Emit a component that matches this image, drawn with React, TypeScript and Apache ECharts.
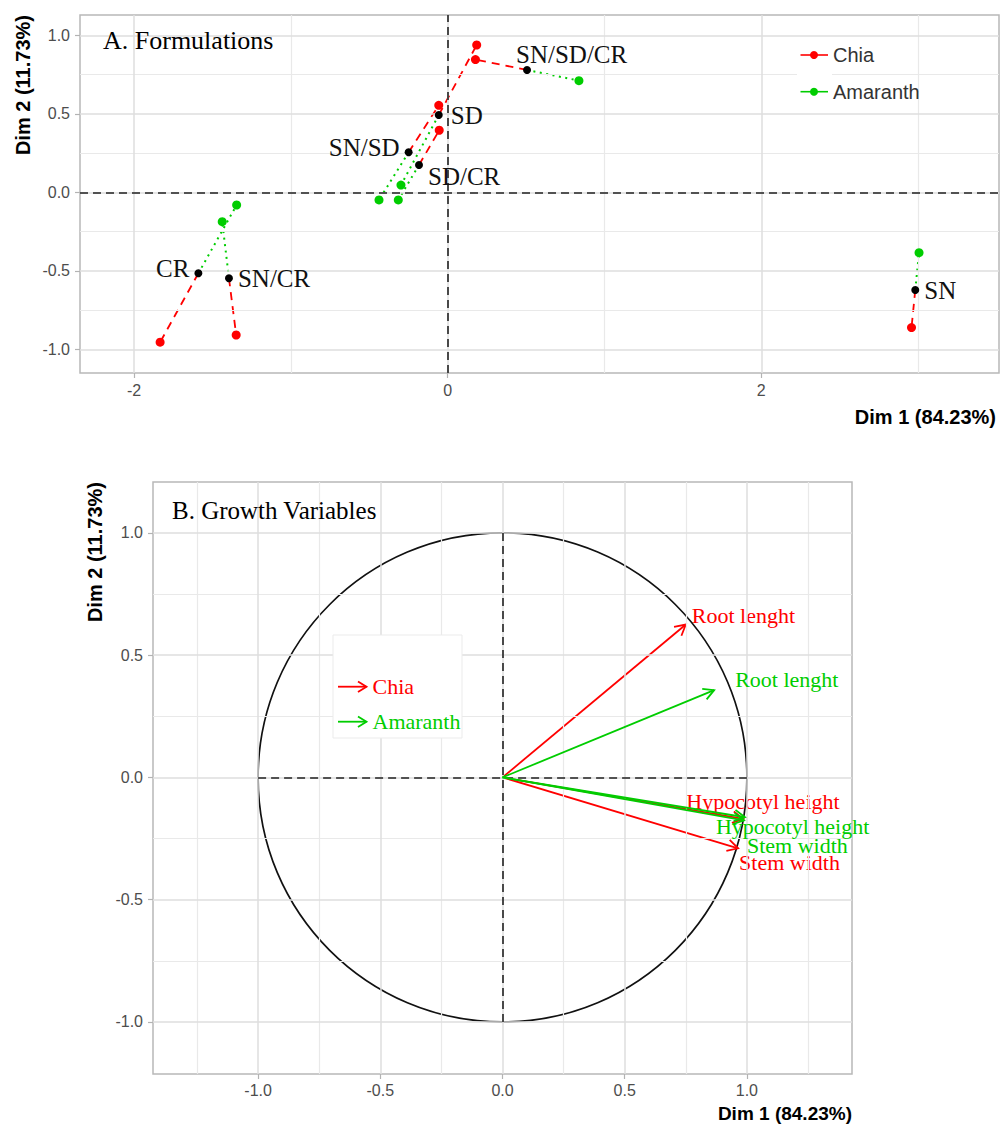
import React, { useEffect, useRef } from "react";
import * as echarts from "echarts";

// ---------- Panel A data (MFA partial individuals) ----------
const formulations = ["CR", "SN/CR", "SN/SD", "SD/CR", "SD", "SN/SD/CR", "SN"];
const meanX = [-1.59, -1.395, -0.249, -0.183, -0.057, 0.506, 2.982];
const meanY = [-0.516, -0.548, 0.255, 0.174, 0.492, 0.779, -0.622];
const chiaX = [-1.834, -1.349, -0.057, -0.054, 0.185, 0.177, 2.958];
const chiaY = [-0.955, -0.909, 0.554, 0.395, 0.938, 0.845, -0.862];
const amaranthX = [-1.346, -1.438, -0.438, -0.315, -0.298, 0.837, 3.006];
const amaranthY = [-0.081, -0.187, -0.049, -0.049, 0.046, 0.711, -0.385];

const xTicksA = [-2, 0, 2];
const xMinorA = [-1, 1, 3];
const yTicksA = [-1, -0.5, 0, 0.5, 1];
const yMinorA = [-0.75, -0.25, 0.25, 0.75];

// ---------- Panel B data (variable loadings) ----------
const variables = ["Root lenght", "Hypocotyl height", "Stem width"];
const chiaLoadX = [0.75, 0.985, 0.964];
const chiaLoadY = [0.625, -0.17, -0.29];
const amaranthLoadX = [0.866, 0.992, 0.988];
const amaranthLoadY = [0.357, -0.163, -0.176];
const circleRadius = [1];

const ticksB = [-1, -0.5, 0, 0.5, 1];
const minorXB = [-1.25, -0.75, -0.25, 0.25, 0.75, 1.25];
const minorYB = [-0.75, -0.25, 0.25, 0.75];

// ---------- styles ----------
const RED = "#FF0000";
const GREEN = "#00CD00";
const SERIF = "'Liberation Serif', 'Times New Roman', serif";
const SANS = "'Liberation Sans', Arial, sans-serif";
const MAJOR = { color: "#DEDEDE", width: 1.5, type: "solid" };
const MINOR = { color: "#E9E9E9", width: 1.2, type: "solid" };
const ZERO = { color: "#222222", width: 1.6, type: [8, 5] };

// label placement (style) for formulation means
const meanLabelPos = [
  { position: "left", offset: [0, -5] },
  { position: "right", offset: [0, 0] },
  { position: "left", offset: [0, -5] },
  { position: "right", offset: [0, 12] },
  { position: "right", offset: [3, 0] },
  { position: "right", offset: [-20, -15] },
  { position: "right", offset: [0, 1] },
];
const chiaLabelOffset = [[6, -9], [-57, -17], [1, 14]];
const amaranthLabelOffset = [[21, -11], [-29, 9], [3, 25]];

function headPoints(x1: number, y1: number, x2: number, y2: number, len = 12, ang = 0.5) {
  const a = Math.atan2(y2 - y1, x2 - x1);
  return [
    [x2 - len * Math.cos(a - ang), y2 - len * Math.sin(a - ang)],
    [x2, y2],
    [x2 - len * Math.cos(a + ang), y2 - len * Math.sin(a + ang)],
  ];
}

function gridSeries(idx: number, majorX: number[], minorX: number[], majorY: number[], minorY: number[]) {
  return {
    type: "line",
    xAxisIndex: idx,
    yAxisIndex: idx,
    data: [],
    z: 1,
    silent: true,
    markLine: {
      silent: true,
      symbol: ["none", "none"],
      label: { show: false },
      emphasis: { disabled: true },
      data: [
        ...minorX.map((v) => ({ xAxis: v, lineStyle: MINOR })),
        ...minorY.map((v) => ({ yAxis: v, lineStyle: MINOR })),
        ...majorX.map((v) => ({ xAxis: v, lineStyle: MAJOR })),
        ...majorY.map((v) => ({ yAxis: v, lineStyle: MAJOR })),
      ],
    },
  };
}

function segmentSeries(xs2: number[], ys2: number[], color: string, dash: number[], width: number, z: number) {
  return {
    type: "custom",
    xAxisIndex: 0,
    yAxisIndex: 0,
    z,
    silent: true,
    data: formulations.map((_, i) => [meanX[i], meanY[i], xs2[i], ys2[i]]),
    encode: { x: [0, 2], y: [1, 3] },
    renderItem: (params: any, api: any) => {
      const a = api.coord([api.value(0), api.value(1)]);
      const b = api.coord([api.value(2), api.value(3)]);
      return {
        type: "line",
        shape: { x1: a[0], y1: a[1], x2: b[0], y2: b[1] },
        style: { stroke: color, lineWidth: width, lineDash: dash, fill: "none" },
      };
    },
  };
}

function arrowSeries(xs: number[], ys: number[], color: string, offsets: number[][], z: number) {
  return {
    type: "custom",
    xAxisIndex: 1,
    yAxisIndex: 1,
    z,
    silent: true,
    data: xs.map((x, i) => [x, ys[i]]),
    encode: { x: 0, y: 1 },
    renderItem: (params: any, api: any) => {
      const o = api.coord([0, 0]);
      const p = api.coord([api.value(0), api.value(1)]);
      const i = params.dataIndex;
      return {
        type: "group",
        children: [
          { type: "line", shape: { x1: o[0], y1: o[1], x2: p[0], y2: p[1] }, style: { stroke: color, lineWidth: 1.8 } },
          { type: "polyline", shape: { points: headPoints(o[0], o[1], p[0], p[1]) }, style: { stroke: color, lineWidth: 1.8, fill: "none" } },
          {
            type: "text",
            x: p[0] + offsets[i][0],
            y: p[1] + offsets[i][1],
            style: { text: variables[i], fill: color, fontFamily: SERIF, fontSize: 22, align: "left", verticalAlign: "middle" },
          },
        ],
      };
    },
  };
}

function makeAxis(idx: number, min: number, max: number, ticks: number[], fmt: (v: number) => string, margin: number) {
  return {
    type: "value",
    gridIndex: idx,
    min,
    max,
    axisLine: { show: false, onZero: false },
    splitLine: { show: false },
    axisTick: { show: true, customValues: ticks, length: 5, lineStyle: { color: "#B3B3B3", width: 1.2 } },
    axisLabel: { customValues: ticks, margin, color: "#4D4D4D", fontSize: 16, fontFamily: SANS, formatter: fmt },
  };
}

function legendA(y: number, color: string, label: string) {
  return [
    { type: "line", z: 51, shape: { x1: 800.5, y1: y, x2: 828, y2: y }, style: { stroke: color, lineWidth: 1.6 } },
    { type: "circle", z: 52, shape: { cx: 814, cy: y, r: 4 }, style: { fill: color } },
    { type: "text", z: 52, x: 833, y, style: { text: label, fill: "#333333", fontFamily: SANS, fontSize: 20, align: "left", verticalAlign: "middle" } },
  ];
}

function legendB(y: number, color: string, label: string) {
  return [
    { type: "line", z: 51, shape: { x1: 338, y1: y, x2: 366.5, y2: y }, style: { stroke: color, lineWidth: 1.8 } },
    { type: "polyline", z: 51, shape: { points: headPoints(338, y, 366.5, y, 10, 0.55) }, style: { stroke: color, lineWidth: 1.8, fill: "none" } },
    { type: "text", z: 52, x: 372.5, y, style: { text: label, fill: color, fontFamily: SERIF, fontSize: 22, align: "left", verticalAlign: "middle" } },
  ];
}

export default function App() {
  const ref = useRef<HTMLDivElement>(null);
  useEffect(() => {
    if (!ref.current) return;
    const chart = echarts.init(ref.current, null, { renderer: "svg" });
    const f1 = (v: number) => Number(v).toFixed(1);
    const f0 = (v: number) => String(Math.round(v));
    const option: any = {
      animation: false,
      backgroundColor: "#FFFFFF",
      textStyle: { fontFamily: SANS },
      grid: [
        { left: 80, top: 15, width: 919, height: 358, show: true, borderColor: "#B8B8B8", borderWidth: 1.5, backgroundColor: "#FFFFFF" },
        { left: 153, top: 482, width: 699, height: 592, show: true, borderColor: "#B8B8B8", borderWidth: 1.5, backgroundColor: "#FFFFFF" },
      ],
      xAxis: [
        makeAxis(0, -2.345, 3.516, xTicksA, f0, 9),
        makeAxis(1, -1.43, 1.43, ticksB, f1, 8),
      ],
      yAxis: [
        makeAxis(0, -1.151, 1.129, yTicksA, f1, 10),
        makeAxis(1, -1.213, 1.208, ticksB, f1, 10),
      ],
      series: [
        gridSeries(0, xTicksA, xMinorA, yTicksA, yMinorA),
        gridSeries(1, ticksB, minorXB, ticksB, minorYB),
        {
          type: "line",
          xAxisIndex: 0,
          yAxisIndex: 0,
          data: [],
          z: 2,
          silent: true,
          markLine: {
            silent: true,
            symbol: ["none", "none"],
            label: { show: false },
            emphasis: { disabled: true },
            data: [{ xAxis: 0, lineStyle: ZERO }, { yAxis: 0, lineStyle: ZERO }],
          },
        },
        {
          type: "line",
          xAxisIndex: 1,
          yAxisIndex: 1,
          data: [],
          z: 2,
          silent: true,
          markLine: {
            silent: true,
            symbol: ["none", "none"],
            label: { show: false },
            emphasis: { disabled: true },
            data: [
              [{ coord: [-circleRadius[0], 0], lineStyle: ZERO }, { coord: [circleRadius[0], 0] }],
              [{ coord: [0, -circleRadius[0]], lineStyle: ZERO }, { coord: [0, circleRadius[0]] }],
            ],
          },
        },
        {
          type: "custom",
          xAxisIndex: 1,
          yAxisIndex: 1,
          z: 3,
          silent: true,
          data: circleRadius.map((r) => [0, 0, r]),
          encode: { x: 0, y: 1 },
          renderItem: (params: any, api: any) => {
            const c = api.coord([api.value(0), api.value(1)]);
            const r = api.value(2);
            const s = api.size([r, r]);
            return { type: "ellipse", shape: { cx: c[0], cy: c[1], rx: s[0], ry: s[1] }, style: { stroke: "#111111", lineWidth: 1.7, fill: "none" } };
          },
        },
        segmentSeries(chiaX, chiaY, RED, [8, 6], 1.8, 4),
        segmentSeries(amaranthX, amaranthY, GREEN, [2, 4.5], 2, 4),
        {
          type: "scatter",
          name: "Chia",
          xAxisIndex: 0,
          yAxisIndex: 0,
          z: 5,
          silent: true,
          symbolSize: 9,
          itemStyle: { color: RED, opacity: 1 },
          data: chiaX.map((x, i) => [x, chiaY[i]]),
        },
        {
          type: "scatter",
          name: "Amaranth",
          xAxisIndex: 0,
          yAxisIndex: 0,
          z: 5,
          silent: true,
          symbolSize: 9,
          itemStyle: { color: GREEN, opacity: 1 },
          data: amaranthX.map((x, i) => [x, amaranthY[i]]),
        },
        {
          type: "scatter",
          name: "Mean",
          xAxisIndex: 0,
          yAxisIndex: 0,
          z: 6,
          silent: true,
          symbolSize: 8,
          itemStyle: { color: "#000000", opacity: 1 },
          label: { show: true, formatter: "{b}", fontFamily: SERIF, fontSize: 25, color: "#111111", distance: 5 },
          data: formulations.map((f, i) => ({
            name: f,
            value: [meanX[i], meanY[i]],
            label: { position: meanLabelPos[i].position, offset: meanLabelPos[i].offset },
          })),
        },
        arrowSeries(chiaLoadX, chiaLoadY, RED, chiaLabelOffset, 4),
        arrowSeries(amaranthLoadX, amaranthLoadY, GREEN, amaranthLabelOffset, 5),
      ],
      graphic: {
        elements: [
          { type: "text", z: 60, x: 103, y: 40, style: { text: "A. Formulations", fill: "#000000", fontFamily: SERIF, fontSize: 26, align: "left", verticalAlign: "middle" } },
          { type: "text", z: 60, x: 172, y: 510, style: { text: "B. Growth Variables", fill: "#000000", fontFamily: SERIF, fontSize: 25, align: "left", verticalAlign: "middle" } },
          { type: "text", z: 60, x: 23, y: 15, rotation: Math.PI / 2, style: { text: "Dim 2 (11.73%)", fill: "#000000", fontFamily: SANS, fontWeight: "bold", fontSize: 20, align: "right", verticalAlign: "middle" } },
          { type: "text", z: 60, x: 95, y: 482, rotation: Math.PI / 2, style: { text: "Dim 2 (11.73%)", fill: "#000000", fontFamily: SANS, fontWeight: "bold", fontSize: 20, align: "right", verticalAlign: "middle" } },
          { type: "text", z: 60, x: 996, y: 417, style: { text: "Dim 1 (84.23%)", fill: "#000000", fontFamily: SANS, fontWeight: "bold", fontSize: 20, align: "right", verticalAlign: "middle" } },
          { type: "text", z: 60, x: 852, y: 1113, style: { text: "Dim 1 (84.23%)", fill: "#000000", fontFamily: SANS, fontWeight: "bold", fontSize: 19, align: "right", verticalAlign: "middle" } },
          { type: "rect", z: 50, shape: { x: 797, y: 37, width: 35, height: 73 }, style: { fill: "#FFFFFF" } },
          ...legendA(55, RED, "Chia"),
          ...legendA(91.7, GREEN, "Amaranth"),
          { type: "rect", z: 50, shape: { x: 333, y: 635, width: 129, height: 103 }, style: { fill: "#FFFFFF", stroke: "#EBEBEB", lineWidth: 1 } },
          ...legendB(686.7, RED, "Chia"),
          ...legendB(721.7, GREEN, "Amaranth"),
        ],
      },
    };
    chart.setOption(option);
    return () => chart.dispose();
  }, []);
  return <div ref={ref} style={{ position: "absolute", left: 0, top: 0, width: 1000, height: 1126 }} />;
}
